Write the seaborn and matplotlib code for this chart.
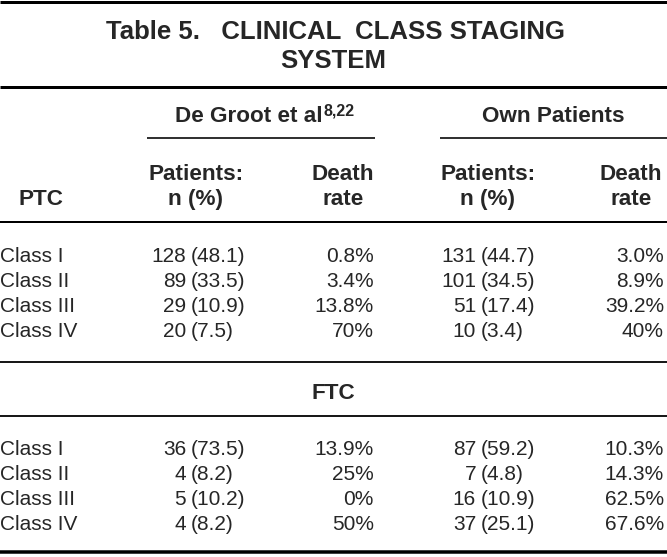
import matplotlib
matplotlib.use("Agg")
import matplotlib.pyplot as plt
import seaborn as sns

# table content
classes = ["Class I", "Class II", "Class III", "Class IV"]

ptc_degroot_n = [128, 89, 29, 20]
ptc_degroot_pct = [48.1, 33.5, 10.9, 7.5]
ptc_degroot_death = ["0.8%", "3.4%", "13.8%", "70%"]
ptc_own_n = [131, 101, 51, 10]
ptc_own_pct = [44.7, 34.5, 17.4, 3.4]
ptc_own_death = ["3.0%", "8.9%", "39.2%", "40%"]

ftc_degroot_n = [36, 4, 5, 4]
ftc_degroot_pct = [73.5, 8.2, 10.2, 8.2]
ftc_degroot_death = ["13.9%", "25%", "0%", "50%"]
ftc_own_n = [87, 7, 16, 37]
ftc_own_pct = [59.2, 4.8, 10.9, 25.1]
ftc_own_death = ["10.3%", "14.3%", "62.5%", "67.6%"]

sns.set_style("white")
plt.rcParams["font.family"] = ["Liberation Sans", "DejaVu Sans"]

W, H = 667, 557
fig = plt.figure(figsize=(W / 100, H / 100), dpi=100)
ax = fig.add_axes([0, 0, 1, 1])
ax.set_xlim(0, W)
ax.set_ylim(H, 0)
ax.axis("off")

PX = 0.72  # points per pixel at 100 dpi
FS = 15
HFS = 16.2

# title
ax.text(335, 39, "Table 5.   CLINICAL  CLASS STAGING", ha="center", va="baseline",
        fontsize=18.5, fontweight="bold")
ax.text(333, 68, "SYSTEM", ha="center", va="baseline", fontsize=18.5, fontweight="bold")

# rules
ax.hlines(1.5, 0, W, color="black", lw=3 * PX)
ax.hlines(87, 0, W, color="black", lw=3 * PX)
ax.hlines(138, 147, 375, color="black", lw=1.6 * PX)
ax.hlines(138, 440, W, color="black", lw=1.6 * PX)
ax.hlines(222, 0, W, color="black", lw=2 * PX)
ax.hlines(362, 0, W, color="black", lw=1.8 * PX)
ax.hlines(416, 0, W, color="black", lw=1.8 * PX)
ax.hlines(552, 0, W, color="black", lw=3.5 * PX)

# group headers
ax.text(323, 122, "De Groot et al", ha="right", va="baseline", fontsize=HFS, fontweight="bold")
ax.text(324, 115, "8,22", ha="left", va="baseline", fontsize=11.5, fontweight="bold")
ax.text(553, 122, "Own Patients", ha="center", va="baseline", fontsize=HFS, fontweight="bold")

# column headers
for xc_p, xc_d in [(196, 343), (488, 631)]:
    ax.text(xc_p, 180, "Patients:", ha="center", va="baseline", fontsize=HFS, fontweight="bold")
    ax.text(xc_p, 205, "n (%)", ha="center", va="baseline", fontsize=HFS, fontweight="bold")
    ax.text(xc_d, 180, "Death", ha="center", va="baseline", fontsize=HFS, fontweight="bold")
    ax.text(xc_d, 205, "rate", ha="center", va="baseline", fontsize=HFS, fontweight="bold")
ax.text(19, 205, "PTC", ha="left", va="baseline", fontsize=HFS, fontweight="bold")
ax.text(333, 399, "FTC", ha="center", va="baseline", fontsize=HFS, fontweight="bold")


def draw_block(y0, dg_n, dg_pct, dg_death, own_n, own_pct, own_death):
    for i, cls in enumerate(classes):
        y = y0 + i * 25
        ax.text(0, y, cls, ha="left", va="baseline", fontsize=FS)
        ax.text(186, y, str(dg_n[i]), ha="right", va="baseline", fontsize=FS)
        ax.text(191, y, f"({dg_pct[i]:.1f})", ha="left", va="baseline", fontsize=FS)
        ax.text(374, y, dg_death[i], ha="right", va="baseline", fontsize=FS)
        ax.text(476, y, str(own_n[i]), ha="right", va="baseline", fontsize=FS)
        ax.text(481, y, f"({own_pct[i]:.1f})", ha="left", va="baseline", fontsize=FS)
        ax.text(664, y, own_death[i], ha="right", va="baseline", fontsize=FS)


draw_block(262, ptc_degroot_n, ptc_degroot_pct, ptc_degroot_death,
           ptc_own_n, ptc_own_pct, ptc_own_death)
draw_block(455, ftc_degroot_n, ftc_degroot_pct, ftc_degroot_death,
           ftc_own_n, ftc_own_pct, ftc_own_death)

fig.savefig("out.png", dpi=100)
